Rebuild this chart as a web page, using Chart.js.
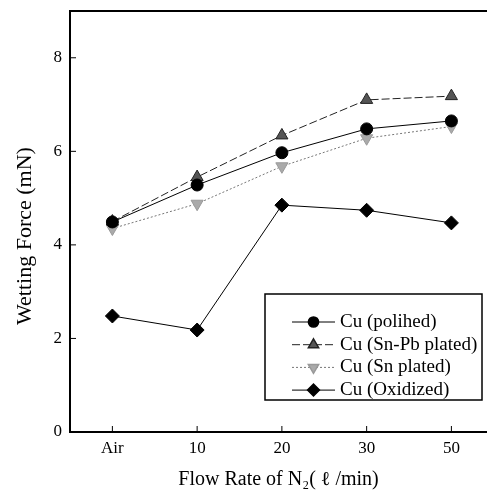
<!DOCTYPE html>
<html>
<head>
<meta charset="utf-8">
<script src="https://cdn.jsdelivr.net/npm/chart.js@4"></script>
<style>
  html, body { margin: 0; padding: 0; background: #fff; overflow: hidden; }
  #wrap { width: 487px; height: 496px; }
</style>
</head>
<body>
<div id="wrap"><canvas id="chart"></canvas></div>
<script>
// ===== Datos =====
const categories = ['Air', '10', '20', '30', '50'];
const polished = [4.49, 5.28, 5.97, 6.48, 6.65];
const snPbPlated = [4.5, 5.45, 6.34, 7.1, 7.18];
const snPlated = [4.35, 4.88, 5.68, 6.28, 6.53];
const oxidized = [2.48, 2.18, 4.85, 4.74, 4.47];
const yTicks = [0, 2, 4, 6, 8];
const seriesNames = ['Cu (polihed)', 'Cu (Sn-Pb plated)', 'Cu (Sn plated)', 'Cu (Oxidized)'];
const yTitle = 'Wetting Force (mN)';
const xTitle = 'Flow Rate of N\u2082( \u2113 /min)';

const FONT = '"Liberation Serif", "DejaVu Serif", serif';

function toPoints(values) {
    return values.map((v, i) => ({ x: i, y: v }));
}

// Marcas hacia dentro, borde superior, título Y y leyenda
const framePlugin = {
    id: 'frame',
    afterDraw(chart) {
        const { ctx, chartArea: a, scales } = chart;
        ctx.save();
        ctx.strokeStyle = '#000';
        ctx.lineWidth = 2;
        // borde superior
        ctx.beginPath();
        ctx.moveTo(a.left, a.top);
        ctx.lineTo(a.right, a.top);
        ctx.stroke();
        // ticks
        ctx.lineWidth = 1;
        categories.forEach((c, i) => {
            const x = scales.x.getPixelForValue(i);
            ctx.beginPath();
            ctx.moveTo(x, a.bottom);
            ctx.lineTo(x, a.bottom - 6);
            ctx.stroke();
        });
        yTicks.forEach(t => {
            const y = scales.y.getPixelForValue(t);
            ctx.beginPath();
            ctx.moveTo(a.left, y);
            ctx.lineTo(a.left + 6, y);
            ctx.stroke();
        });

        // título eje Y
        ctx.save();
        ctx.translate(25, 236);
        ctx.rotate(-Math.PI / 2);
        ctx.font = '22px ' + FONT;
        ctx.fillStyle = '#000';
        ctx.textAlign = 'center';
        ctx.textBaseline = 'middle';
        ctx.fillText(yTitle, 0, 0);
        ctx.restore();

        // leyenda
        const box = { x: 265, y: 294, w: 217, h: 106 };
        ctx.lineWidth = 1.5;
        ctx.strokeRect(box.x, box.y, box.w, box.h);
        ctx.font = '19px ' + FONT;
        ctx.fillStyle = '#000';
        ctx.textBaseline = 'middle';
        chart.data.datasets.forEach((ds, i) => {
            const y = box.y + 28 + i * 22.7;
            const x0 = box.x + 27, x1 = box.x + 70;
            ctx.save();
            ctx.strokeStyle = ds.borderColor;
            ctx.lineWidth = 1;
            ctx.setLineDash(ds.borderDash || []);
            ctx.beginPath();
            ctx.moveTo(x0, y);
            ctx.lineTo(x1, y);
            ctx.stroke();
            ctx.restore();
            const opts = {
                pointStyle: ds.pointStyle,
                radius: ds.pointRadius * 0.85,
                rotation: ds.pointRotation || 0,
                borderWidth: 1
            };
            ctx.save();
            ctx.fillStyle = ds.pointBackgroundColor;
            ctx.strokeStyle = ds.pointBorderColor;
            Chart.helpers.drawPoint(ctx, opts, (x0 + x1) / 2, y);
            ctx.restore();
            ctx.fillText(ds.label, x1 + 5, y);
        });
        ctx.restore();
    }
};

new Chart(document.getElementById('chart'), {
    type: 'line',
    data: {
        datasets: [
            {
                label: seriesNames[0],
                data: toPoints(polished),
                borderColor: '#000',
                borderWidth: 1,
                pointStyle: 'circle',
                pointRadius: 6,
                pointBackgroundColor: '#000',
                pointBorderColor: '#000'
            },
            {
                label: seriesNames[1],
                data: toPoints(snPbPlated),
                borderColor: '#222',
                borderWidth: 1,
                borderDash: [8, 3],
                pointStyle: 'triangle',
                pointRadius: 7,
                pointBackgroundColor: '#555',
                pointBorderColor: '#222'
            },
            {
                label: seriesNames[2],
                data: toPoints(snPlated),
                borderColor: '#777',
                borderWidth: 1,
                borderDash: [2, 2],
                pointStyle: 'triangle',
                pointRotation: 180,
                pointRadius: 7,
                pointBackgroundColor: '#aaa',
                pointBorderColor: '#999'
            },
            {
                label: seriesNames[3],
                data: toPoints(oxidized),
                borderColor: '#000',
                borderWidth: 1,
                pointStyle: 'rectRot',
                pointRadius: 7,
                pointBackgroundColor: '#000',
                pointBorderColor: '#000'
            }
        ]
    },
    options: {
        responsive: true,
        maintainAspectRatio: false,
        animation: false,
        layout: { autoPadding: false, padding: { top: 11, right: 0, left: 0, bottom: 0 } },
        plugins: {
            legend: { display: false },
            tooltip: { enabled: false }
        },
        scales: {
            x: {
                type: 'linear',
                min: -0.5,
                max: 4.42,
                afterBuildTicks(scale) {
                    scale.ticks = categories.map((c, i) => ({ value: i }));
                },
                afterFit(scale) {
                    scale.height = 64;
                    scale.paddingLeft = 0;
                    scale.paddingRight = 0;
                },
                grid: { display: false, drawTicks: false },
                border: { display: true, color: '#000', width: 2 },
                ticks: {
                    color: '#000',
                    font: { family: FONT, size: 17 },
                    padding: 6,
                    callback: (v) => categories[v]
                },
                title: {
                    display: true,
                    text: xTitle,
                    color: '#000',
                    font: { family: FONT, size: 20 },
                    padding: { top: 14 }
                }
            },
            y: {
                min: 0,
                max: 9,
                afterBuildTicks(scale) {
                    scale.ticks = yTicks.map(v => ({ value: v }));
                },
                afterFit(scale) {
                    scale.width = 70;
                    scale.paddingTop = 0;
                    scale.paddingBottom = 0;
                },
                grid: { display: false, drawTicks: false },
                border: { display: true, color: '#000', width: 2 },
                ticks: {
                    color: '#000',
                    font: { family: FONT, size: 17 },
                    padding: 8
                }
            }
        }
    },
    plugins: [framePlugin]
});
</script>
</body>
</html>
